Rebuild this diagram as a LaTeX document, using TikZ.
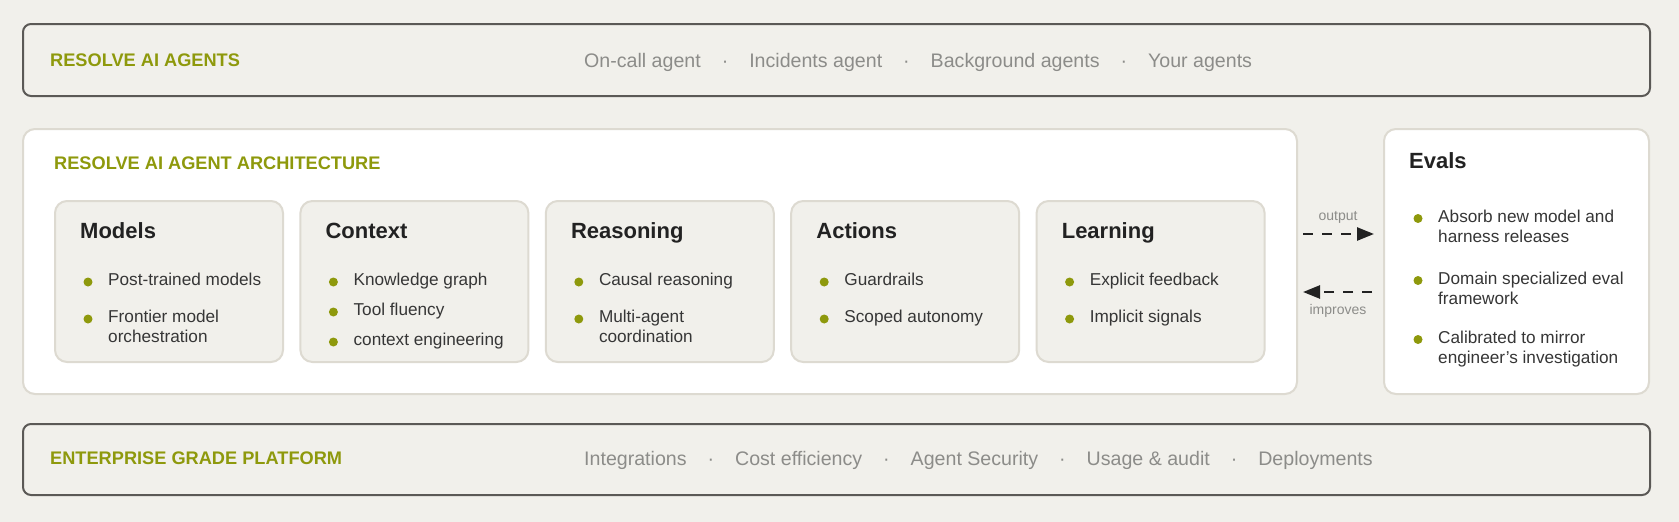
\documentclass[tikz,border=0pt]{standalone}
\usepackage{fontspec}
\setmainfont{Liberation Sans}
\usetikzlibrary{arrows.meta}

\definecolor{bgcol}{HTML}{F1F0EB}
\definecolor{olive}{HTML}{8E990C}
\definecolor{darkline}{HTML}{5B5956}
\definecolor{lightline}{HTML}{DDDAD1}
\definecolor{inktxt}{HTML}{222222}
\definecolor{bodytxt}{HTML}{363636}
\definecolor{greytxt}{HTML}{8C8C89}

\tikzset{
  band/.style={draw=darkline, line width=2, fill=bgcol, rounded corners=8,
    anchor=north west, inner sep=0, minimum width=1627, minimum height=72},
  panel/.style={draw=lightline, line width=2, fill=white, rounded corners=12,
    anchor=north west, inner sep=0},
  card/.style={draw=lightline, line width=2, fill=bgcol, rounded corners=12,
    anchor=north west, inner sep=0, minimum width=228, minimum height=161},
  ttl/.style={anchor=base west, inner sep=0, text=olive,
    font=\fontsize{18.2}{21}\selectfont\bfseries},
  lst/.style={anchor=base west, inner sep=0, text=greytxt,
    font=\fontsize{19.6}{23}\selectfont},
  head/.style={anchor=base west, inner sep=0, text=inktxt,
    font=\fontsize{22}{26}\selectfont\bfseries},
  item/.style={anchor=base west, inner sep=0, text=bodytxt,
    font=\fontsize{17.2}{20}\selectfont},
  lbl/.style={anchor=base, inner sep=0, text=greytxt,
    font=\fontsize{14}{16}\selectfont},
  flow/.style={draw=inktxt, line width=2.5, dash pattern=on 10 off 9,
    -{Triangle[length=17, width=13]}},
}

% bullet line: name, card, drop to baseline, text
\newcommand\itm[5][54]{%
  \node[item] (#2) at ([xshift=#1pt,yshift=-#4pt]#3.north west)
    {\begin{tabular}[t]{@{}l@{}}#5\end{tabular}};
  \fill[olive] ([xshift=-20pt,yshift=3.5pt]#2.base west) circle (4.5);}
\newcommand\sepdot{\hspace{21pt}·\hspace{21pt}}

\begin{document}
\begin{tikzpicture}[x=1pt, y=-1pt]
  \useasboundingbox (0,0) rectangle (1679,522);
  \fill[bgcol] (0,0) rectangle (1679,522);

  % agents band
  \node[band] (agents) at (22,23) {};
  \node[ttl] (agents-ttl) at (50,66.5) {RESOLVE AI AGENTS};
  \node[lst] (agents-list) at (584,67)
    {On-call agent\sepdot Incidents agent\sepdot Background agents\sepdot Your agents};

  % architecture
  \node[panel, minimum width=1274, minimum height=265] (arch) at (22,128) {};
  \node[ttl] (arch-ttl) at (54,169.5) {RESOLVE AI AGENT ARCHITECTURE};
  \foreach \nm/\hd [count=\i from 0] in {models/Models, context/Context,
      reasoning/Reasoning, actions/Actions, learning/Learning}
  {
    \node[card] (\nm) at (54+245.4*\i, 200) {};
    \node[head] (\nm-head) at ([xshift=26pt,yshift=-38.5pt]\nm.north west) {\hd};
  }
  \itm{models-a}{models}{85.5}{Post-trained models}
  \itm{models-b}{models}{122.5}{Frontier model\\orchestration}
  \itm{context-a}{context}{85.5}{Knowledge graph}
  \itm{context-b}{context}{115.5}{Tool fluency}
  \itm{context-c}{context}{145.5}{context engineering}
  \itm{reasoning-a}{reasoning}{85.5}{Causal reasoning}
  \itm{reasoning-b}{reasoning}{122.5}{Multi-agent\\coordination}
  \itm{actions-a}{actions}{85.5}{Guardrails}
  \itm{actions-b}{actions}{122.5}{Scoped autonomy}
  \itm{learning-a}{learning}{85.5}{Explicit feedback}
  \itm{learning-b}{learning}{122.5}{Implicit signals}

  % evals
  \node[panel, minimum width=265, minimum height=265] (evals) at (1383,128) {};
  \node[head] (evals-head) at ([xshift=26pt,yshift=-40.5pt]evals.north west) {Evals};
  \itm[55]{evals-a}{evals}{94}{Absorb new model and\\harness releases}
  \itm[55]{evals-b}{evals}{156}{Domain specialized eval\\framework}
  \itm[55]{evals-c}{evals}{215}{Calibrated to mirror\\engineer’s investigation}

  % loop between them
  \coordinate (out-s) at (1303,234);
  \coordinate (out-e) at (1374,234);
  \coordinate (imp-s) at (1372,292);
  \coordinate (imp-e) at (1303,292);
  \draw[flow] (out-s) -- (out-e);
  \draw[flow] (imp-s) -- (imp-e);
  \node[lbl] (out-lbl) at (1338,220.5) {output};
  \node[lbl] (imp-lbl) at (1338,314) {improves};

  % platform band
  \node[band, minimum height=71] (platform) at (22,423) {};
  \node[ttl] (platform-ttl) at (50,464.5) {ENTERPRISE GRADE PLATFORM};
  \node[lst] (platform-list) at (584,465)
    {Integrations\sepdot Cost efficiency\sepdot Agent Security\sepdot Usage \& audit\sepdot Deployments};
\end{tikzpicture}
\end{document}
